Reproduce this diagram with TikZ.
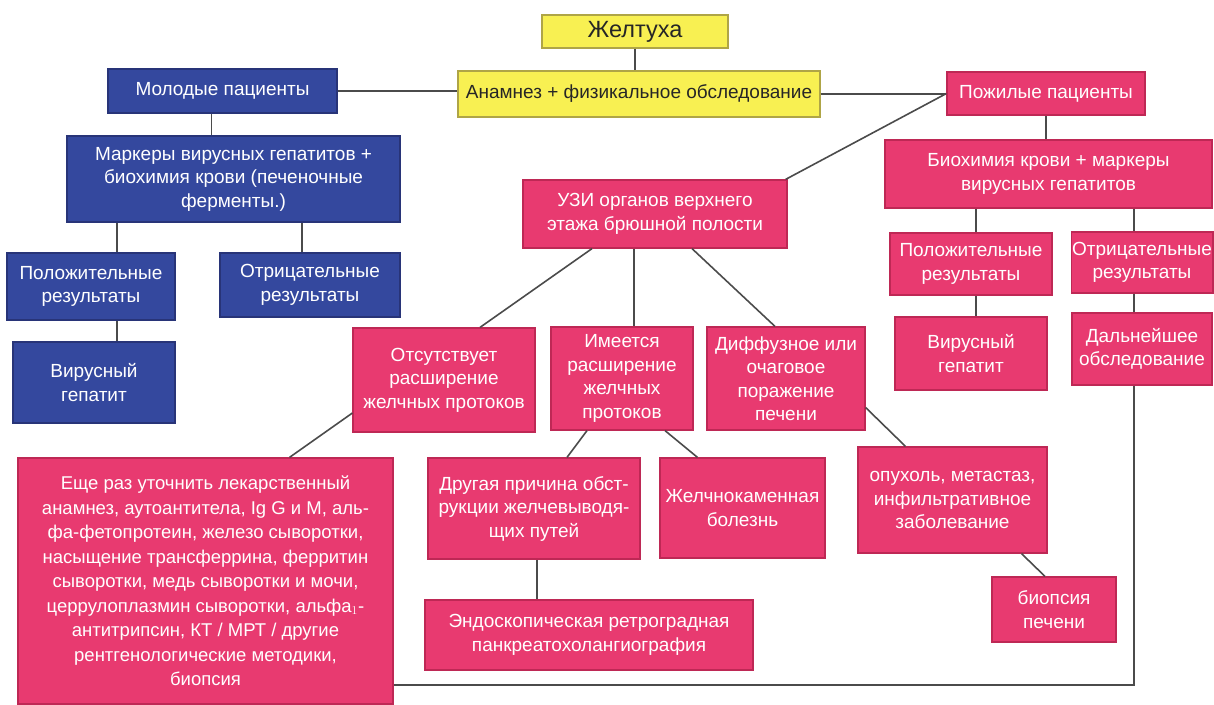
\documentclass[tikz,border=0pt]{standalone}
\usepackage{fontspec}
\setmainfont{Liberation Sans}
\usepackage{xcolor}
\usepackage{tikz}
\usetikzlibrary{positioning,calc}

\definecolor{ybfill}{RGB}{248,240,82}
\definecolor{ybdraw}{RGB}{175,165,70}
\definecolor{bbfill}{RGB}{52,72,158}
\definecolor{bbdraw}{RGB}{40,52,120}
\definecolor{pbfill}{RGB}{232,58,112}
\definecolor{pbdraw}{RGB}{190,40,85}
\definecolor{linkgray}{RGB}{75,75,75}

\begin{document}
\begin{tikzpicture}[
	x=1pt, y=-1pt,
	font=\fontsize{19}{23.5}\selectfont,
	yellowbox/.style={
		rectangle, draw=ybdraw, fill=ybfill, line width=1.2pt,
		text=black!85, align=center, inner sep=1pt
	},
	bluebox/.style={
		rectangle, draw=bbdraw, fill=bbfill, line width=1.2pt,
		text=white, align=center, inner sep=1pt
	},
	pinkbox/.style={
		rectangle, draw=pbdraw, fill=pbfill, line width=1.2pt,
		text=white, align=center, inner sep=1pt
	},
	wh/.style 2 args={minimum width=#1pt, minimum height=#2pt},
	link/.style={line width=1.6pt, linkgray}
	]
	\useasboundingbox (0,0) rectangle (1214,704);
	%% --- top: jaundice, history and exam ---
	\node[yellowbox, wh={186}{33}, font=\fontsize{23.5}{27}\selectfont] (zhel) at (635,31.5) {Желтуха};
	\node[yellowbox, wh={362}{46}] (anam) at (639,94) {Анамнез + физикальное обследование};
	
	%% --- left branch: young patients ---
	\node[bluebox, wh={229}{44}] (young) at (222.5,91) {Молодые пациенты};
	\node[bluebox, wh={333}{86}] (markb) at (233.5,179)
	{Маркеры вирусных гепатитов +\\биохимия крови (печеночные\\ферменты.)};
	\node[bluebox, wh={168}{67}] (posb) at (91,286.5) {Положительные\\результаты};
	\node[bluebox, wh={180}{64}] (negb) at (310,285) {Отрицательные\\результаты};
	\node[bluebox, wh={162}{81}] (virb) at (94,382.5) {Вирусный\\гепатит};
	
	%% --- right branch: elderly patients ---
	\node[pinkbox, wh={198}{43}] (old) at (1046,93.5) {Пожилые пациенты};
	\node[pinkbox, wh={327}{68}] (bioch) at (1048.5,174)
	{Биохимия крови + маркеры\\вирусных гепатитов};
	\node[pinkbox, wh={162}{62}] (posr) at (971,264) {Положительные\\результаты};
	\node[pinkbox, wh={140}{61}] (negr) at (1142,262.5) {Отрицательные\\результаты};
	\node[pinkbox, wh={152}{73}] (virr) at (971,353.5) {Вирусный\\гепатит};
	\node[pinkbox, wh={140}{72}] (further) at (1142,349) {Дальнейшее\\обследование};
	
	%% --- ultrasound and its outcomes ---
	\node[pinkbox, wh={264}{68}] (uzi) at (655,214)
	{УЗИ органов верхнего\\этажа брюшной полости};
	\node[pinkbox, wh={182}{104}] (absent) at (444,380)
	{Отсутствует\\расширение\\желчных протоков};
	\node[pinkbox, wh={142}{103}] (present) at (622,378.5)
	{Имеется\\расширение\\желчных\\протоков};
	\node[pinkbox, wh={158}{103}] (diffuse) at (786,378.5)
	{Диффузное или\\очаговое\\поражение\\печени};
	
	\node[pinkbox, wh={375}{246}, font=\fontsize{18.5}{24.5}\selectfont] (recheck) at (205.5,581)
	{Еще раз уточнить лекарственный\\анамнез, аутоантитела, Ig G и M, аль-\\фа-фетопротеин, железо сыворотки,\\насыщение трансферрина, ферритин\\сыворотки, медь сыворотки и мочи,\\церрулоплазмин сыворотки, альфа$_1$-\\антитрипсин, КТ / МРТ / другие\\рентгенологические методики,\\биопсия};
	\node[pinkbox, wh={212}{101}] (other) at (534,508.5)
	{Другая причина обст-\\рукции желчевыводя-\\щих путей};
	\node[pinkbox, wh={165}{100}] (stone) at (742.5,508)
	{Желчнокаменная\\болезнь};
	\node[pinkbox, wh={328}{70}] (ercp) at (589,635)
	{Эндоскопическая ретроградная\\панкреатохолангиография};
	\node[pinkbox, wh={189}{106}] (tumor) at (952.5,500)
	{опухоль, метастаз,\\инфильтративное\\заболевание};
	\node[pinkbox, wh={124}{65}] (biopsy) at (1054,609.5) {биопсия\\печени};
	
	%% --- connectors ---
	\draw[link] (zhel.south) -- (zhel.south |- anam.north);
	\draw[link] (young.east) -- (young.east -| anam.west);
	\draw[link] (anam.east) -- (anam.east -| old.west);
	\draw[link] (old.west) -- ([xshift=-2pt]uzi.north east);
	
	\draw[link] ([xshift=-11pt]young.south) -- ([xshift=-11pt]young.south |- markb.north);
	\draw[link] ([xshift=26pt]posb.north |- markb.south) -- ([xshift=26pt]posb.north);
	\draw[link] ([xshift=-8pt]negb.north |- markb.south) -- ([xshift=-8pt]negb.north);
	\draw[link] ([xshift=26pt]posb.south) -- ([xshift=26pt]posb.south |- virb.north);
	
	\draw[link] (old.south) -- (old.south |- bioch.north);
	\draw[link] ([xshift=5pt]posr.north |- bioch.south) -- ([xshift=5pt]posr.north);
	\draw[link] ([xshift=-8pt]negr.north |- bioch.south) -- ([xshift=-8pt]negr.north);
	\draw[link] ([xshift=5pt]posr.south) -- ([xshift=5pt]posr.south |- virr.north);
	\draw[link] ([xshift=-8pt]negr.south) -- ([xshift=-8pt]negr.south |- further.north);
	\draw[link] ([xshift=-8pt]further.south) |- ([yshift=-104pt]recheck.east);
	
	\draw[link] ([xshift=-63pt]uzi.south) -- ([xshift=36pt]absent.north);
	\draw[link] ([xshift=-21pt]uzi.south) -- ([xshift=-21pt]uzi.south |- present.north);
	\draw[link] ([xshift=37pt]uzi.south) -- ([xshift=-11pt]diffuse.north);
	\draw[link] ([yshift=-33pt]absent.west) -- ([xshift=84pt]recheck.north);
	\draw[link] ([xshift=-35pt]present.south) -- ([xshift=33pt]other.north);
	\draw[link] ([xshift=43pt]present.south) -- ([xshift=-45pt]stone.north);
	\draw[link] ([xshift=3pt]other.south) -- ([xshift=3pt]other.south |- ercp.north);
	\draw[link] ([yshift=-29pt]diffuse.east) -- ([xshift=-47pt]tumor.north);
	\draw[link] ([xshift=69pt]tumor.south) -- ([xshift=-9pt]biopsy.north);
\end{tikzpicture}
\end{document}
